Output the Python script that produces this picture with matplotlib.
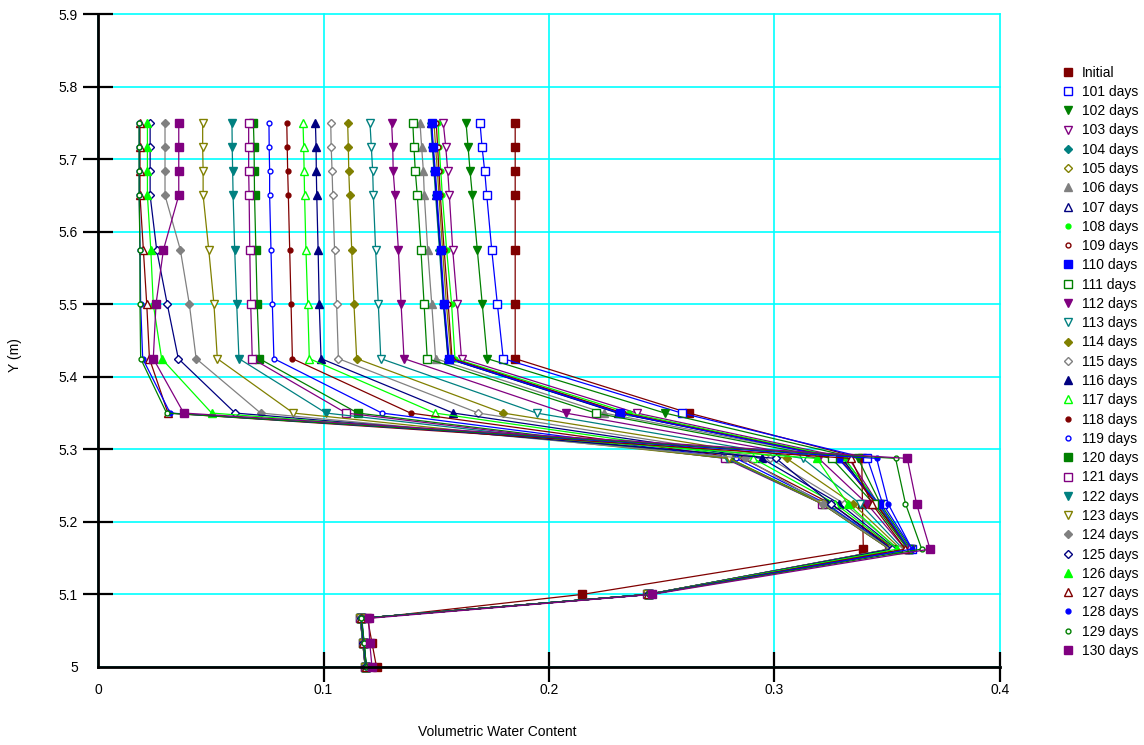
import matplotlib.pyplot as plt
from matplotlib.lines import Line2D
from matplotlib.ticker import FuncFormatter

plt.rcParams['font.family'] = ['Liberation Sans', 'DejaVu Sans']

# node elevations (m), top to bottom
y_nodes = [5.75, 5.717, 5.683, 5.65, 5.575, 5.5, 5.425, 5.35,
           5.2875, 5.225, 5.1625, 5.1, 5.067, 5.033, 5.0]

# volumetric water content at each node, one list per time step
wc_initial = [0.185, 0.185, 0.185, 0.185, 0.185, 0.185, 0.185, 0.262, 0.3387, 0.339, 0.3394, 0.2146, 0.1195, 0.1215, 0.1235]
wc_101 = [0.1694, 0.1703, 0.1715, 0.1724, 0.1746, 0.1771, 0.1797, 0.2588, 0.3412, 0.348, 0.361, 0.2445, 0.117, 0.118, 0.119]
wc_102 = [0.1632, 0.1641, 0.165, 0.166, 0.1682, 0.1704, 0.1726, 0.2514, 0.337, 0.347, 0.3605, 0.2445, 0.1168, 0.118, 0.119]
wc_103 = [0.1531, 0.1542, 0.1551, 0.1558, 0.1573, 0.1593, 0.1612, 0.2389, 0.333, 0.346, 0.36, 0.2444, 0.1168, 0.1179, 0.1189]
wc_104 = [0.1475, 0.1482, 0.149, 0.1497, 0.1514, 0.1531, 0.1552, 0.231, 0.331, 0.346, 0.3598, 0.2443, 0.1167, 0.1179, 0.1189]
wc_105 = [0.149, 0.1497, 0.1505, 0.1512, 0.1528, 0.1545, 0.1566, 0.2325, 0.33, 0.345, 0.3596, 0.2443, 0.1167, 0.1178, 0.1189]
wc_106 = [0.1428, 0.1435, 0.1443, 0.1447, 0.1462, 0.148, 0.1497, 0.2245, 0.329, 0.345, 0.3595, 0.2442, 0.1166, 0.1178, 0.1188]
wc_107 = [0.1478, 0.1485, 0.1493, 0.15, 0.1517, 0.1533, 0.1553, 0.2305, 0.33, 0.345, 0.3597, 0.2443, 0.1167, 0.1178, 0.1189]
wc_108 = [0.1509, 0.1513, 0.152, 0.1527, 0.1546, 0.1568, 0.1583, 0.2356, 0.331, 0.346, 0.3598, 0.2444, 0.1167, 0.1179, 0.1189]
wc_109 = [0.15, 0.1506, 0.1512, 0.1518, 0.1535, 0.1553, 0.157, 0.233, 0.329, 0.345, 0.3596, 0.2443, 0.1167, 0.1178, 0.1189]
wc_110 = [0.148, 0.1487, 0.1496, 0.1503, 0.152, 0.1536, 0.1557, 0.2315, 0.3283, 0.3463, 0.3595, 0.2443, 0.1167, 0.1178, 0.1189]
wc_111 = [0.1396, 0.1401, 0.1407, 0.1416, 0.1432, 0.1446, 0.146, 0.2207, 0.3254, 0.344, 0.359, 0.2442, 0.1166, 0.1178, 0.1188]
wc_112 = [0.1302, 0.1307, 0.1309, 0.1317, 0.1332, 0.1344, 0.1357, 0.2074, 0.3196, 0.341, 0.358, 0.2441, 0.1166, 0.1177, 0.1188]
wc_113 = [0.1206, 0.1212, 0.1218, 0.1221, 0.1231, 0.1243, 0.1254, 0.1945, 0.3125, 0.338, 0.357, 0.244, 0.1165, 0.1177, 0.1187]
wc_114 = [0.1107, 0.111, 0.1112, 0.1116, 0.1125, 0.1135, 0.1147, 0.1797, 0.3054, 0.3347, 0.356, 0.244, 0.1165, 0.1177, 0.1187]
wc_115 = [0.1032, 0.1034, 0.1038, 0.1041, 0.1049, 0.1058, 0.1066, 0.1687, 0.298, 0.331, 0.355, 0.2439, 0.1165, 0.1176, 0.1187]
wc_116 = [0.0964, 0.0967, 0.0968, 0.097, 0.0976, 0.0981, 0.0989, 0.1576, 0.2943, 0.3288, 0.354, 0.2439, 0.1164, 0.1176, 0.1186]
wc_117 = [0.0909, 0.0912, 0.0914, 0.0916, 0.0922, 0.093, 0.0937, 0.1494, 0.2906, 0.327, 0.3535, 0.2438, 0.1164, 0.1176, 0.1186]
wc_118 = [0.0837, 0.0839, 0.0841, 0.0844, 0.085, 0.0856, 0.0862, 0.1386, 0.286, 0.325, 0.353, 0.2438, 0.1164, 0.1175, 0.1186]
wc_119 = [0.0758, 0.0759, 0.0761, 0.0761, 0.0767, 0.0773, 0.078, 0.1259, 0.283, 0.323, 0.352, 0.2437, 0.1163, 0.1175, 0.1185]
wc_120 = [0.0689, 0.0692, 0.0693, 0.0694, 0.07, 0.0706, 0.0715, 0.1152, 0.28, 0.322, 0.3515, 0.2437, 0.1163, 0.1175, 0.1185]
wc_121 = [0.0668, 0.0668, 0.0668, 0.067, 0.0673, 0.0677, 0.0684, 0.11, 0.278, 0.321, 0.351, 0.2436, 0.1163, 0.1174, 0.1185]
wc_122 = [0.0594, 0.0595, 0.0597, 0.0599, 0.0606, 0.0615, 0.0625, 0.1011, 0.279, 0.321, 0.351, 0.2436, 0.1163, 0.1174, 0.1185]
wc_123 = [0.0464, 0.0464, 0.0466, 0.0466, 0.0491, 0.0514, 0.0529, 0.0866, 0.28, 0.321, 0.351, 0.2436, 0.1163, 0.1174, 0.1185]
wc_124 = [0.0297, 0.0297, 0.0297, 0.0297, 0.0365, 0.0405, 0.0435, 0.0721, 0.287, 0.3215, 0.3515, 0.2437, 0.1163, 0.1174, 0.1185]
wc_125 = [0.0231, 0.0231, 0.0231, 0.0231, 0.026, 0.0307, 0.0356, 0.0608, 0.3007, 0.3251, 0.352, 0.2437, 0.1164, 0.1175, 0.1186]
wc_126 = [0.0219, 0.0219, 0.0219, 0.0219, 0.0234, 0.0245, 0.0282, 0.0504, 0.3187, 0.3325, 0.3545, 0.2438, 0.1164, 0.1176, 0.1187]
wc_127 = [0.0186, 0.0186, 0.0186, 0.0186, 0.0201, 0.0216, 0.0228, 0.031, 0.3338, 0.3432, 0.358, 0.244, 0.1165, 0.1177, 0.1188]
wc_128 = [0.0183, 0.0183, 0.0183, 0.0183, 0.0186, 0.0189, 0.0198, 0.032, 0.3453, 0.3504, 0.361, 0.2442, 0.1166, 0.1178, 0.1189]
wc_129 = [0.0182, 0.0182, 0.0182, 0.0182, 0.0186, 0.0186, 0.0189, 0.0304, 0.3537, 0.3581, 0.3653, 0.2445, 0.1168, 0.118, 0.119]
wc_130 = [0.0358, 0.0358, 0.0358, 0.0358, 0.029, 0.0257, 0.0245, 0.038, 0.3589, 0.363, 0.369, 0.2455, 0.12, 0.1205, 0.1215]

series = [wc_initial, wc_101, wc_102, wc_103, wc_104, wc_105, wc_106, wc_107,
          wc_108, wc_109, wc_110, wc_111, wc_112, wc_113, wc_114, wc_115,
          wc_116, wc_117, wc_118, wc_119, wc_120, wc_121, wc_122, wc_123,
          wc_124, wc_125, wc_126, wc_127, wc_128, wc_129, wc_130]
labels = ['Initial'] + ['%d days' % d for d in range(101, 131)]

# style cycles (colours repeat every 9, markers every 10)
colors = ['#800000', '#0000ff', '#008000', '#800080', '#008080',
          '#808000', '#808080', '#000080', '#00ff00']
markers = [('s', True), ('s', False), ('v', True), ('v', False), ('D', True),
           ('D', False), ('^', True), ('^', False), ('o', True), ('o', False)]
msizes = {'s': 5.5, 'v': 6, '^': 6, 'D': 4, 'o': 3.5}

fig = plt.figure(figsize=(11.44, 7.45), dpi=100)
ax = fig.add_axes([0.0857, 0.1047, 0.7884, 0.8765])

handles = []
for i, (vals, lab) in enumerate(zip(series, labels)):
    c = colors[i % 9]
    m, filled = markers[i % 10]
    fc = c if filled else 'white'
    ax.plot(vals, y_nodes, color=c, lw=0.9, marker=m, ms=msizes[m],
            mfc=fc, mec=c, mew=1.0, zorder=3 + i * 0.01, clip_on=False)
    handles.append(Line2D([], [], ls='none', marker=m, ms=msizes[m],
                          mfc=fc, mec=c, mew=1.0, color=c))

ax.set_xlim(0, 0.4)
ax.set_ylim(5.0, 5.9)
ax.set_xticks([0, 0.1, 0.2, 0.3, 0.4])
ax.set_yticks([5.0, 5.1, 5.2, 5.3, 5.4, 5.5, 5.6, 5.7, 5.8, 5.9])
fmt = FuncFormatter(lambda v, p: '%g' % round(v, 2))
ax.xaxis.set_major_formatter(fmt)
ax.yaxis.set_major_formatter(fmt)

ax.grid(True, color='#00ffff', lw=1.2, zorder=1)
for gl in ax.get_xgridlines() + ax.get_ygridlines():
    gl.set_clip_on(False)
ax.set_axisbelow(True)
for s in ['top', 'right']:
    ax.spines[s].set_visible(False)
for s in ['left', 'bottom']:
    ax.spines[s].set_linewidth(2)
    ax.spines[s].set_zorder(5)

ax.tick_params(axis='both', direction='inout', length=21, width=1.6,
               labelsize=10, colors='black')
ax.tick_params(axis='x', pad=1)
ax.tick_params(axis='y', pad=4)
# hide end ticks that sit on the axes corner
ax.xaxis.get_major_ticks()[0].tick1line.set_visible(False)
ax.yaxis.get_major_ticks()[0].tick1line.set_visible(False)

fig.text(0.4345, 0.0175, 'Volumetric Water Content', fontsize=10,
         ha='center', va='center')
fig.text(0.013, 0.5235, 'Y (m)', fontsize=10, rotation=90,
         ha='center', va='center')

fig.legend(handles, labels, loc='upper left',
           bbox_to_anchor=(0.929, 0.912), frameon=False, fontsize=10,
           handlelength=0.8, handletextpad=0.6, labelspacing=0.38,
           borderaxespad=0, borderpad=0)

fig.savefig('out.png', dpi=100)
